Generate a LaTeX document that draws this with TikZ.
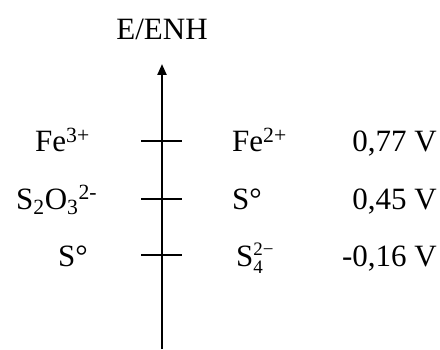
\documentclass[tikz,border=0pt]{standalone}
\usepackage{fontspec}
\setmainfont{Liberation Serif}
\usetikzlibrary{arrows.meta}
\begin{document}
\begin{tikzpicture}[x=1pt,y=1pt,
  lbl/.style={font=\fontsize{31}{36}\selectfont, inner sep=0pt},
  axisline/.style={line width=2.2pt},
  tickline/.style={line width=2.2pt}]
\useasboundingbox (0,0) rectangle (440,349);
\coordinate (bot) at (162,0);
\coordinate (top) at (162,285);
\draw[axisline,-{Triangle[width=9pt,length=11pt]}] (bot) -- (top);
\node[lbl] (ttl) at (162,320) {E/ENH};
% ticks
\coordinate (t1l) at (141,208); \coordinate (t1r) at (182,208);
\coordinate (t2l) at (141,150); \coordinate (t2r) at (182,150);
\coordinate (t3l) at (141,94);  \coordinate (t3r) at (182,94);
\draw[tickline] (t1l) -- (t1r);
\draw[tickline] (t2l) -- (t2r);
\draw[tickline] (t3l) -- (t3r);
% left labels
\node[lbl, anchor=base west] (fe3) at (35,197) {Fe\textsuperscript{3+}};
\node[lbl, anchor=base west] (s2o3) at (16,140) {S\textsubscript{2}O\textsubscript{3}\textsuperscript{2-}};
\node[lbl, anchor=base west] (s0l) at (58,83) {S°};
% right labels
\node[lbl, anchor=base west] (fe2) at (232,197) {Fe\textsuperscript{2+}};
\node[lbl, anchor=base west] (s0r) at (232,140) {S°};
\node[lbl, anchor=base west] (s42) at (236,83) {S\rlap{\raisebox{0.35em}{\fontsize{19}{20}\selectfont 2−}}\raisebox{-0.25em}{\fontsize{19}{20}\selectfont 4}};
% values
\node[lbl, anchor=base east] (v1) at (437,197) {0,77 V};
\node[lbl, anchor=base east] (v2) at (437,140) {0,45 V};
\node[lbl, anchor=base east] (v3) at (437,83) {-0,16 V};
\end{tikzpicture}
\end{document}
